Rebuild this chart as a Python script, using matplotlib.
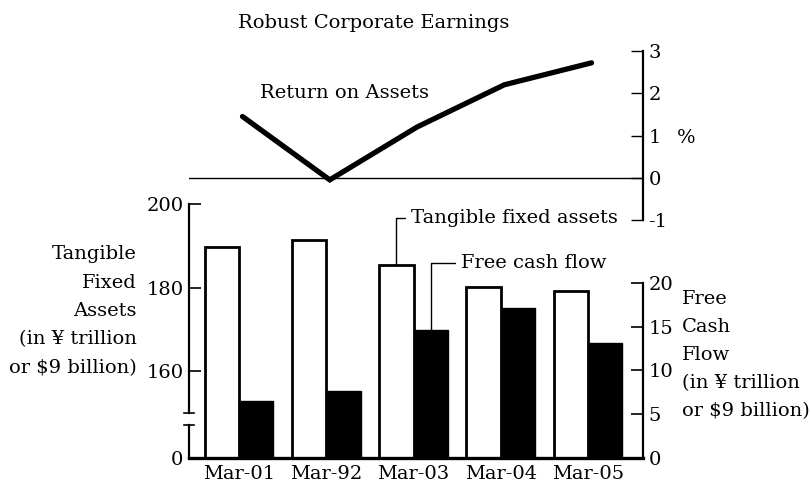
import numpy as np
import matplotlib
matplotlib.use("Agg")
from matplotlib import pyplot as plt

# values
periods = ["Mar-01", "Mar-92", "Mar-03", "Mar-04", "Mar-05"]
tangible_assets = [189.8, 191.4, 185.3, 180.2, 179.2]   # ¥ trillion
free_cash_flow = [6.5, 7.6, 14.6, 17.1, 13.1]           # ¥ trillion
return_on_assets = [1.45, -0.05, 1.2, 2.2, 2.72]        # %
left_ticks = [0, 160, 180, 200]
right_ticks = [0, 5, 10, 15, 20]
roa_ticks = [-1, 0, 1, 2, 3]

plt.rcParams['font.family'] = ['DejaVu Serif']
FS = 14
W, H = 812, 490


def fx(px):
    return px / W


def fy(py):
    return 1 - py / H


# broken left axis: 0..150 squeezed into a short stub, 150..200 full scale
BREAK = 150.0
LOW_H = 45.0
K = 4.2


def fwd(v):
    v = np.asarray(v, dtype=float)
    return np.where(v <= BREAK, v * LOW_H / BREAK, LOW_H + (v - BREAK) * K)


def inv(h):
    h = np.asarray(h, dtype=float)
    return np.where(h <= LOW_H, h * BREAK / LOW_H, BREAK + (h - LOW_H) / K)


fig = plt.figure(figsize=(8.12, 4.9), dpi=100)

x_left, x_right = 189, 643
xlim = (-0.573, 4.63)
idx = np.arange(len(periods))
w = 0.395

# ---- bar panel ----
ax = fig.add_axes([fx(x_left), fy(458), fx(x_right - x_left), (458 - 204) / H])
ax.set_yscale('function', functions=(fwd, inv))
ax.set_ylim(0, 200)
ax.set_xlim(*xlim)
ax.bar(idx - w / 2, tangible_assets, width=w, color='white', edgecolor='black',
       linewidth=2.0, zorder=2)
ax.set_yticks(left_ticks)
ax.set_yticklabels([str(t) for t in left_ticks], fontsize=FS)
ax.tick_params(axis='y', direction='in', length=8.5, width=1.2, pad=4)
ax.set_xticks(idx)
ax.set_xticklabels(periods, fontsize=FS)
ax.tick_params(axis='x', length=0, pad=5)
for s in ['top', 'right', 'left']:
    ax.spines[s].set_visible(False)
ax.spines['bottom'].set_linewidth(2.4)
ax.spines['bottom'].set_zorder(5)

# left spine with a break
lo_top = inv(33.0)
ax.plot([xlim[0], xlim[0]], [0, lo_top], color='black', lw=1.6, clip_on=False, zorder=4)
ax.plot([xlim[0], xlim[0]], [BREAK, 200], color='black', lw=1.6, clip_on=False, zorder=4)
cap = 0.06
ax.plot([xlim[0] - cap, xlim[0] + cap], [lo_top, lo_top], color='black', lw=1.2, clip_on=False)
ax.plot([xlim[0] - cap, xlim[0] + cap], [BREAK, BREAK], color='black', lw=1.2, clip_on=False)

# free cash flow on the right axis
ax_r = ax.twinx()
ax_r.set_ylim(0, (458 - 204) / 8.76)
ax_r.set_xlim(*xlim)
ax_r.bar(idx + w / 2, free_cash_flow, width=w, color='black', edgecolor='black',
         linewidth=1.0, zorder=2)
ax_r.set_yticks(right_ticks)
ax_r.set_yticklabels([str(t) for t in right_ticks], fontsize=FS)
ax_r.tick_params(axis='y', direction='in', length=8.5, width=1.2, pad=4)
for s in ['top', 'left', 'bottom']:
    ax_r.spines[s].set_visible(False)
ax_r.spines['right'].set_bounds(0, 20)
ax_r.spines['right'].set_linewidth(1.6)

# leader labels
ax.annotate('Tangible fixed assets', xy=(2 - w / 2, tangible_assets[2]),
            xytext=(411, H - 218), textcoords='figure pixels',
            ha='left', va='center', fontsize=FS,
            arrowprops=dict(arrowstyle='-', lw=1.0, color='black', shrinkA=2, shrinkB=0,
                            connectionstyle='angle,angleA=0,angleB=90,rad=0'),
            annotation_clip=False)
ax_r.annotate('Free cash flow', xy=(2 + w / 2, free_cash_flow[2]),
              xytext=(461, H - 263), textcoords='figure pixels',
              ha='left', va='center', fontsize=FS,
              arrowprops=dict(arrowstyle='-', lw=1.0, color='black', shrinkA=2, shrinkB=0,
                              connectionstyle='angle,angleA=0,angleB=90,rad=0'),
              annotation_clip=False)

# ---- return on assets panel ----
ax2 = fig.add_axes([fx(x_left), fy(220), fx(x_right - x_left), (220 - 51) / H])
ax2.patch.set_alpha(0)
ax2.set_xlim(*xlim)
ax2.set_ylim(-1, 3)
ax2.plot(idx + 0.04, return_on_assets, color='black', lw=3.8, solid_joinstyle='miter',
         solid_capstyle='round', zorder=3)
ax2.axhline(0, color='black', lw=1.0)
ax2.set_xticks([])
ax2.yaxis.tick_right()
ax2.set_yticks(roa_ticks)
ax2.set_yticklabels([str(t) for t in roa_ticks], fontsize=FS)
ax2.tick_params(axis='y', direction='in', length=8.5, width=1.0, pad=4)
for s in ['top', 'left', 'bottom']:
    ax2.spines[s].set_visible(False)
ax2.spines['right'].set_linewidth(1.6)

# ---- texts ----
fig.text(fx(374), fy(23), 'Robust Corporate Earnings', ha='center', va='center', fontsize=FS)
fig.text(fx(260), fy(93), 'Return on Assets', ha='left', va='center', fontsize=FS)
fig.text(fx(686), fy(138), '%', ha='center', va='center', fontsize=FS)
fig.text(fx(137), fy(311), 'Tangible\nFixed\nAssets\n(in ¥ trillion\nor $9 billion)',
         ha='right', va='center', multialignment='right', fontsize=FS, linespacing=1.75)
fig.text(fx(682), fy(355), 'Free\nCash\nFlow\n(in ¥ trillion\nor $9 billion)',
         ha='left', va='center', multialignment='left', fontsize=FS, linespacing=1.72)

plt.savefig('out.png', dpi=100)
